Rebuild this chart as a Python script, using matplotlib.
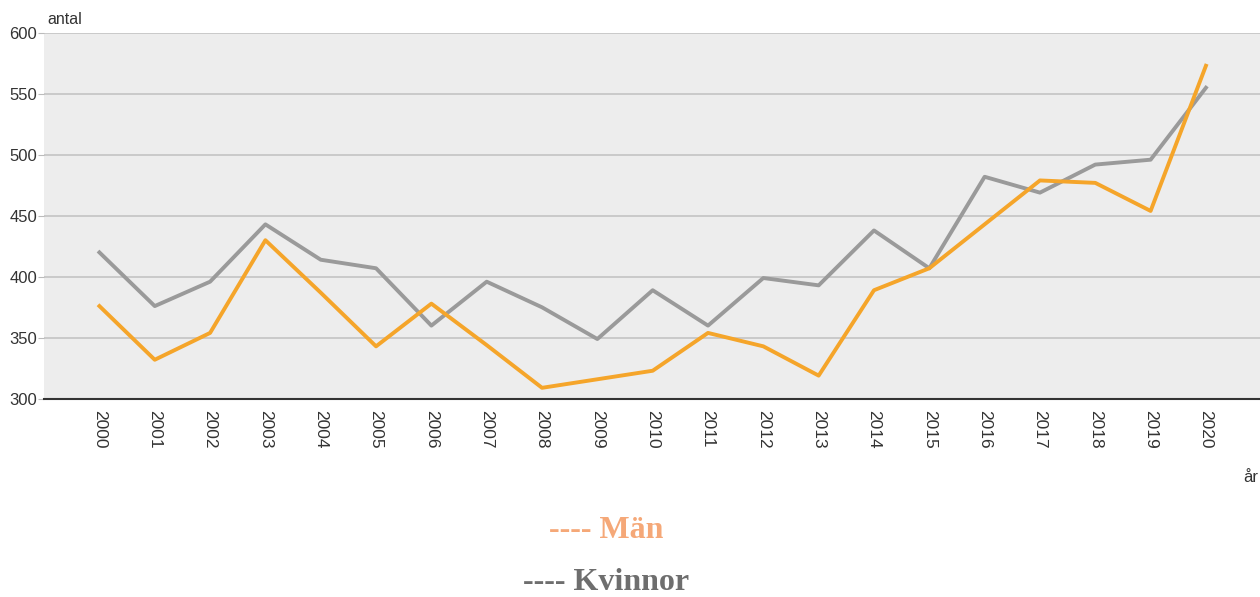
import numpy as np
import matplotlib.pyplot as plt

years = list(range(2000, 2021))
man = [376, 332, 354, 430, 387, 343, 378, 344, 309, 316, 323, 354, 343, 319, 389, 407, 443, 479, 477, 454, 573]
kvinnor = [420, 376, 396, 443, 414, 407, 360, 396, 375, 349, 389, 360, 399, 393, 438, 407, 482, 469, 492, 496, 555]
yticks = [300, 350, 400, 450, 500, 550, 600]

plt.rcParams['font.family'] = ['Liberation Sans', 'DejaVu Sans']
fig = plt.figure(figsize=(12.6, 5.97), dpi=100)
ax = fig.add_axes([0.035, 0.332, 0.966, 0.613])
ax.set_facecolor('#ededed')

ax.plot(years, kvinnor, color='#9a9a9a', linewidth=2.8, zorder=3)
ax.plot(years, man, color='#f5a52a', linewidth=2.8, zorder=4)

ax.set_xlim(1999, 2021)
ax.set_ylim(300, 600)
ax.set_yticks(yticks)
ax.set_xticks(years)
ax.set_xticklabels([str(y) for y in years], rotation=270, fontsize=12.5, color='#333333')
ax.tick_params(axis='x', length=0, pad=8)
ax.tick_params(axis='y', length=4, color='#bbbbbb', labelsize=12, labelcolor='#333333', pad=1)
ax.grid(axis='y', color='#c4c4c4', linewidth=1.2, zorder=1)
for s in ['top', 'right', 'left']:
    ax.spines[s].set_visible(False)
ax.spines['bottom'].set_color('#333333')
ax.spines['bottom'].set_linewidth(1.5)
ax.spines['bottom'].set_zorder(5)

fig.text(47 / 1260, 1 - 19 / 597, 'antal', fontsize=11.5, color='#333333', va='center', ha='left')
fig.text(1243 / 1260, 1 - 478 / 597, 'år', fontsize=12, color='#333333', va='center', ha='left')
fig.text(606 / 1260, 1 - 531 / 597, '---- Män', fontsize=23, fontweight='bold',
         family='Liberation Serif', color='#f5a878', ha='center', va='center')
fig.text(606 / 1260, 1 - 583 / 597, '---- Kvinnor', fontsize=23, fontweight='bold',
         family='Liberation Serif', color='#6e6e6e', ha='center', va='center')

fig.savefig('out.png', dpi=100)
